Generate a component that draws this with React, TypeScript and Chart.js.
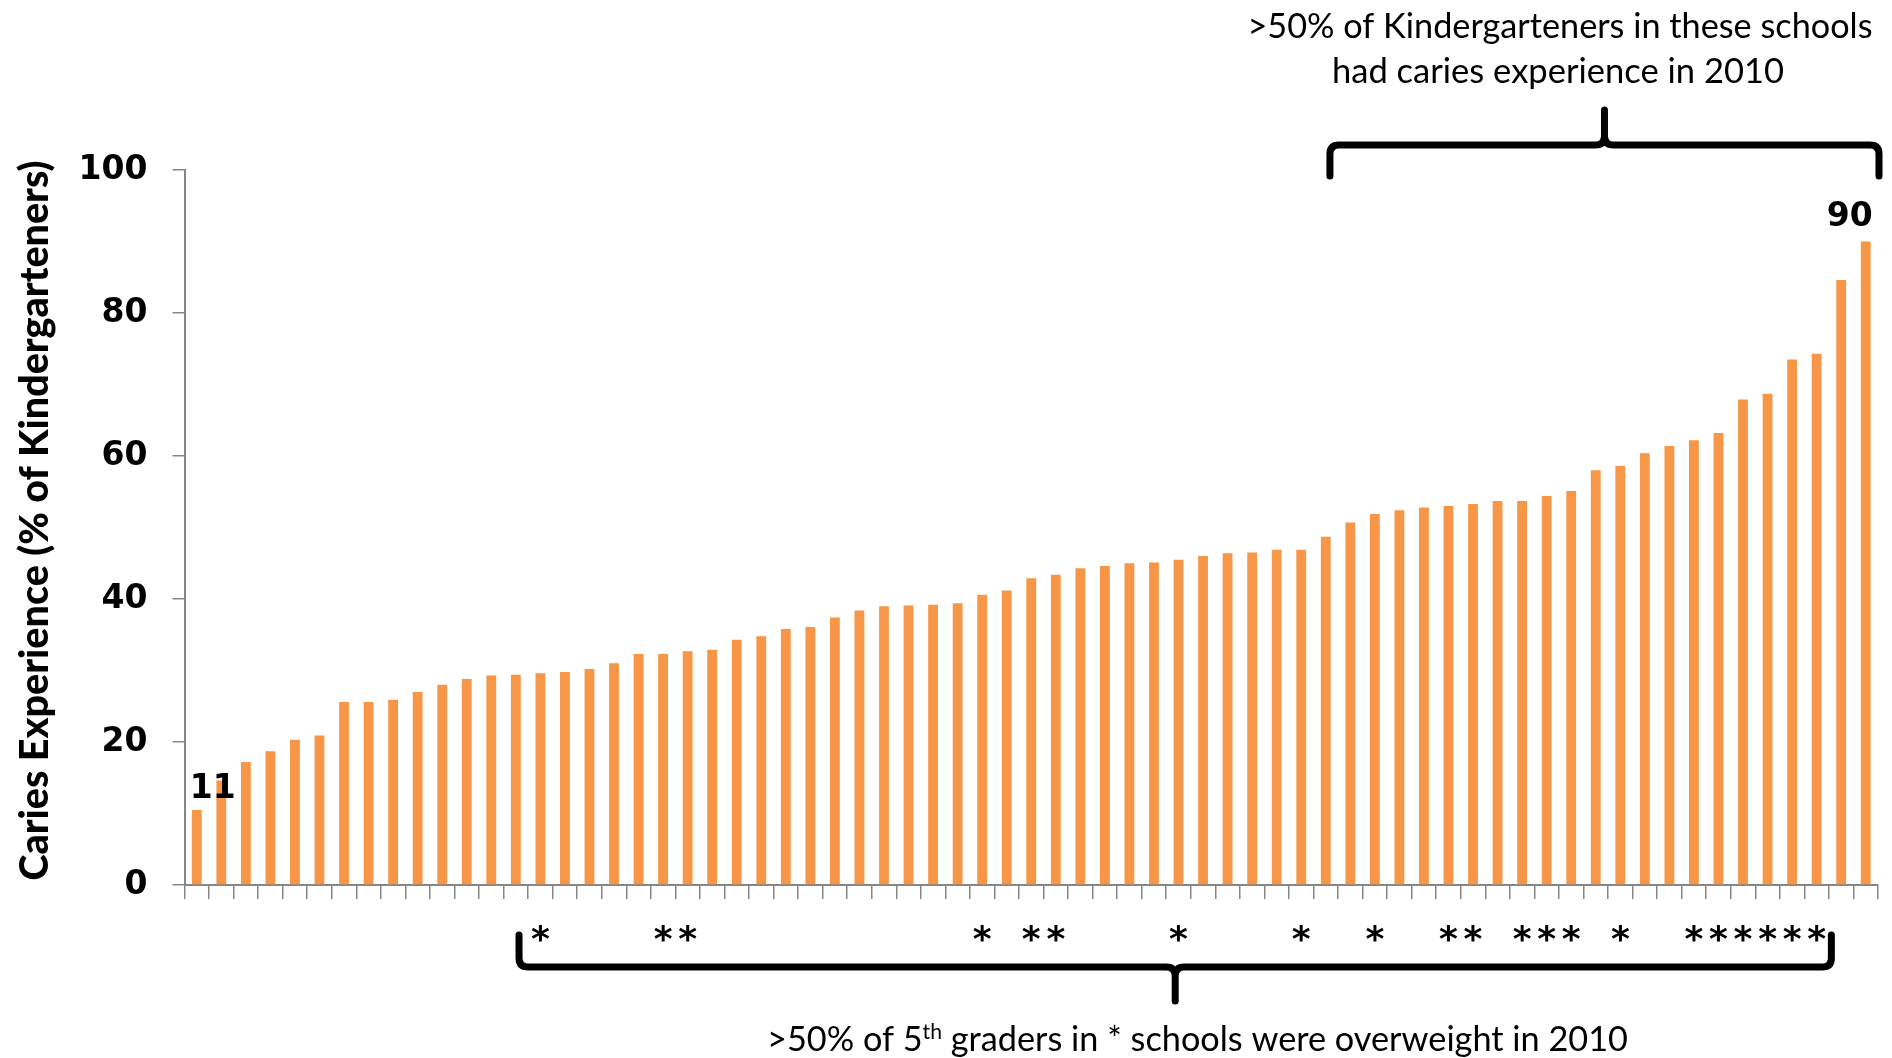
import React, { useEffect, useRef } from "react";
import { Chart, registerables } from "chart.js";

Chart.register(...registerables);

// Caries experience (% of kindergarteners) per school, sorted ascending
const cariesValues: number[] = [
  10.5, 14.6, 17.2, 18.7, 20.3, 20.9, 25.6, 25.6, 25.9, 27.0,
  28.0, 28.8, 29.3, 29.4, 29.6, 29.8, 30.2, 31.0, 32.3, 32.3,
  32.7, 32.9, 34.3, 34.8, 35.8, 36.1, 37.4, 38.4, 39.0, 39.1,
  39.2, 39.4, 40.6, 41.2, 42.9, 43.4, 44.3, 44.6, 45.0, 45.1,
  45.5, 46.0, 46.4, 46.5, 46.9, 46.9, 48.7, 50.7, 51.9, 52.4,
  52.8, 53.0, 53.3, 53.7, 53.7, 54.4, 55.1, 58.0, 58.6, 60.4,
  61.4, 62.2, 63.2, 67.9, 68.7, 73.5, 74.3, 84.6, 90.0,
];

const schoolLabels: string[] = cariesValues.map((_, i) => `School ${i + 1}`);

// 1-based positions of schools where >50% of 5th graders were overweight
const overweightSchools: number[] = [
  15, 20, 21, 33, 35, 36, 41, 46, 49, 52, 53, 55, 56, 57, 59, 62, 63, 64, 65, 66, 67,
];

// value labels shown on the chart (first and last bars)
const labelledBars: { index: number; text: string }[] = [
  { index: 0, text: "11" },
  { index: 68, text: "90" },
];

const yTicks: number[] = [0, 20, 40, 60, 80, 100];

const yAxisTitle = "Caries Experience (% of Kindergarteners)";
const topNoteLines = [">50% of Kindergarteners in these schools", "had caries experience in 2010"];
const bottomNoteParts = [">50% of 5", "th", " graders in * schools were overweight in 2010"];

const BAR_COLOR = "#F79646";
const AXIS_COLOR = "#868686";
const BOLD_NUM_FONT = 'bold 33px "DejaVu Sans", Verdana, sans-serif';
const NOTE_FONT_FAMILY = 'Lato, "Open Sans", sans-serif';

function fittedText(
  ctx: CanvasRenderingContext2D,
  text: string,
  cx: number,
  baseline: number,
  font: string,
  width: number
) {
  ctx.save();
  ctx.font = font;
  const w = ctx.measureText(text).width;
  const s = width / w;
  ctx.translate(cx, baseline);
  ctx.scale(s, 1);
  ctx.textAlign = "center";
  ctx.textBaseline = "alphabetic";
  ctx.fillStyle = "#000";
  ctx.fillText(text, 0, 0);
  ctx.restore();
}

function drawBrace(
  ctx: CanvasRenderingContext2D,
  x0: number,
  x1: number,
  yLine: number,
  yEnd: number,
  yTip: number
) {
  const xc = (x0 + x1) / 2;
  const dirEnd = Math.sign(yEnd - yLine);
  const dirTip = Math.sign(yTip - yLine);
  const r = 9;
  ctx.save();
  ctx.strokeStyle = "#000";
  ctx.lineWidth = 7;
  ctx.lineCap = "round";
  ctx.lineJoin = "round";
  ctx.beginPath();
  ctx.moveTo(x0, yEnd);
  ctx.lineTo(x0, yLine + dirEnd * r);
  ctx.quadraticCurveTo(x0, yLine, x0 + r, yLine);
  ctx.lineTo(xc - r, yLine);
  ctx.quadraticCurveTo(xc, yLine, xc, yLine + dirTip * r);
  ctx.lineTo(xc, yTip);
  ctx.moveTo(xc, yLine + dirTip * r);
  ctx.quadraticCurveTo(xc, yLine, xc + r, yLine);
  ctx.lineTo(x1 - r, yLine);
  ctx.quadraticCurveTo(x1, yLine, x1, yLine + dirEnd * r);
  ctx.lineTo(x1, yEnd);
  ctx.stroke();
  ctx.restore();
}

const annotationPlugin = {
  id: "cariesAnnotations",
  afterDraw(chart: any) {
    const { ctx, chartArea, scales } = chart;
    const xs = scales.x;
    const meta = chart.getDatasetMeta(0);
    const step = xs.getPixelForValue(1) - xs.getPixelForValue(0);

    // value labels
    ctx.save();
    ctx.font = BOLD_NUM_FONT;
    ctx.fillStyle = "#000";
    ctx.textAlign = "center";
    ctx.textBaseline = "alphabetic";
    labelledBars.forEach(({ index, text }) => {
      const bar = meta.data[index];
      const first = index === 0;
      const dx = first ? 16 : -16;
      const dy = first ? 12 : 16;
      ctx.fillText(text, bar.x + dx, bar.y - dy);
    });
    ctx.restore();

    // asterisks
    ctx.save();
    ctx.font = 'bold 36px "DejaVu Sans", Verdana, sans-serif';
    ctx.fillStyle = "#000";
    ctx.textAlign = "center";
    ctx.textBaseline = "alphabetic";
    const m = ctx.measureText("*");
    const starCenter = chartArea.bottom + 48;
    const starBase = starCenter + (m.actualBoundingBoxAscent - m.actualBoundingBoxDescent) / 2;
    overweightSchools.forEach((n) => {
      ctx.fillText("*", xs.getPixelForValue(n - 1), starBase);
    });
    ctx.restore();

    // top brace: schools with >50% caries experience
    const firstAbove = cariesValues.findIndex((v) => v > 50);
    const topLeft = xs.getPixelForValue(firstAbove) - 0.83 * step;
    const topRight = chartArea.right + 1;
    drawBrace(ctx, topLeft, topRight, chartArea.top - 25, chartArea.top + 6, chartArea.top - 60);

    // bottom brace: overweight schools
    const firstStar = overweightSchools[0] - 1;
    const lastStar = overweightSchools[overweightSchools.length - 1] - 1;
    const botLeft = xs.getPixelForValue(firstStar) - 0.87 * step;
    const botRight = xs.getPixelForValue(lastStar) + 0.6 * step;
    drawBrace(ctx, botLeft, botRight, chartArea.bottom + 82, chartArea.bottom + 50, chartArea.bottom + 116);

    // top note
    const noteFont = `34px ${NOTE_FONT_FAMILY}`;
    fittedText(ctx, topNoteLines[0], 1560, 38, noteFont, 625);
    fittedText(ctx, topNoteLines[1], 1558, 83, noteFont, 452);

    // bottom note with superscript
    ctx.save();
    const supFont = `21px ${NOTE_FONT_FAMILY}`;
    const widths = bottomNoteParts.map((p, i) => {
      ctx.font = i === 1 ? supFont : noteFont;
      return ctx.measureText(p).width;
    });
    const total = widths.reduce((a, b) => a + b, 0);
    const target = 861;
    const s = target / total;
    ctx.translate(1197.5 - target / 2, 1051);
    ctx.scale(s, 1);
    ctx.fillStyle = "#000";
    ctx.textAlign = "left";
    ctx.textBaseline = "alphabetic";
    let cx = 0;
    bottomNoteParts.forEach((p, i) => {
      ctx.font = i === 1 ? supFont : noteFont;
      ctx.fillText(p, cx, i === 1 ? -12 : 0);
      cx += widths[i];
    });
    ctx.restore();

    // y-axis title
    ctx.save();
    ctx.font = `900 39px ${NOTE_FONT_FAMILY}`;
    const tw = ctx.measureText(yAxisTitle).width;
    ctx.translate(35, (chartArea.top + chartArea.bottom) / 2 - 7);
    ctx.rotate(-Math.PI / 2);
    ctx.scale(720 / tw, 1);
    ctx.fillStyle = "#000";
    ctx.textAlign = "center";
    ctx.textBaseline = "middle";
    ctx.fillText(yAxisTitle, 0, 0);
    ctx.restore();
  },
};

export default function App() {
  const canvasRef = useRef<HTMLCanvasElement | null>(null);

  useEffect(() => {
    document.body.style.margin = "0";
    document.body.style.overflow = "hidden";
    const canvas = canvasRef.current;
    if (!canvas) return;
    const chart = new Chart(canvas, {
      type: "bar",
      data: {
        labels: schoolLabels,
        datasets: [
          {
            data: cariesValues,
            backgroundColor: BAR_COLOR,
            borderWidth: 0,
            barPercentage: 0.4,
            categoryPercentage: 1,
          },
        ],
      },
      options: {
        responsive: false,
        animation: false,
        devicePixelRatio: 1,
        layout: { padding: { top: 170, right: 14, bottom: 0, left: 0 } },
        plugins: {
          legend: { display: false },
          tooltip: { enabled: false },
          title: { display: false },
        },
        scales: {
          x: {
            type: "category",
            offset: true,
            grid: {
              display: true,
              offset: true,
              drawOnChartArea: false,
              drawTicks: true,
              tickLength: 14,
              color: AXIS_COLOR,
              lineWidth: 1.5,
            },
            border: { display: true, color: AXIS_COLOR, width: 2 },
            ticks: { display: false, autoSkip: false },
            afterFit: (scale: any) => {
              scale.height = 1058 - 885;
            },
          },
          y: {
            min: 0,
            max: 100,
            afterBuildTicks: (scale: any) => {
              scale.ticks = yTicks.map((v) => ({ value: v }));
            },
            grid: {
              drawOnChartArea: false,
              drawTicks: true,
              tickLength: 12,
              color: AXIS_COLOR,
              lineWidth: 1.5,
            },
            border: { display: true, color: AXIS_COLOR, width: 2 },
            ticks: {
              color: "#000",
              font: { family: '"DejaVu Sans", Verdana, sans-serif', size: 33, weight: "bold" },
              padding: 25,
            },
            afterFit: (scale: any) => {
              scale.width = 184.5;
            },
          },
        },
      },
      plugins: [annotationPlugin],
    });
    return () => chart.destroy();
  }, []);

  return (
    <div style={{ width: 1892, height: 1058, background: "#fff" }}>
      <canvas ref={canvasRef} width={1892} height={1058} style={{ display: "block", width: 1892, height: 1058 }} />
    </div>
  );
}
